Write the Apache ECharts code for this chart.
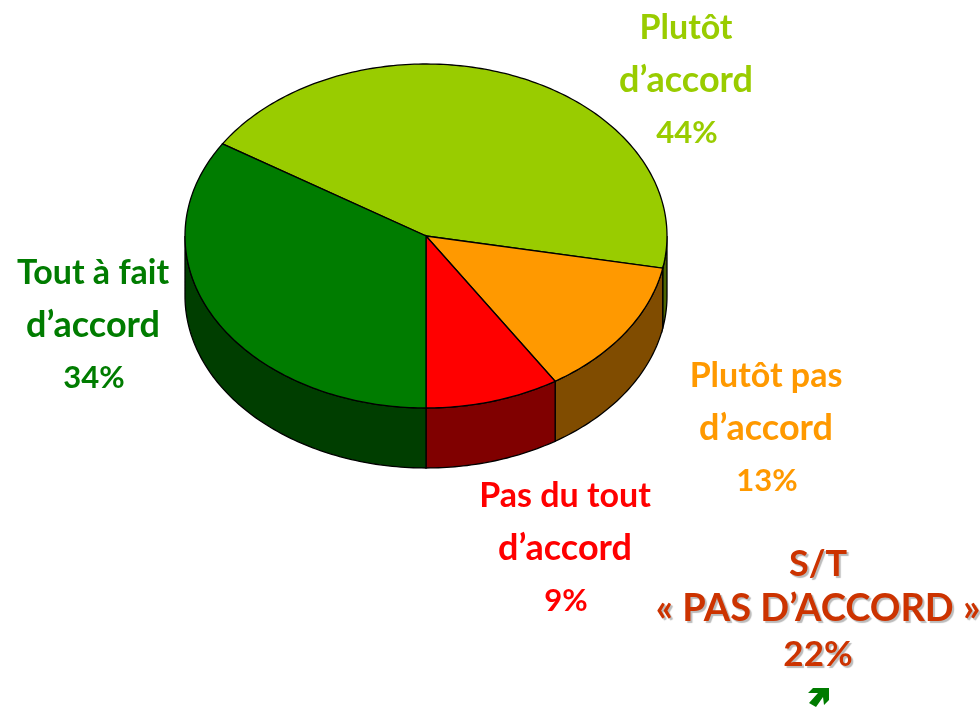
<!DOCTYPE html>
<html><head><meta charset="utf-8">
<style>html,body{margin:0;padding:0;background:#fff}#c{width:980px;height:707px}</style>
<script src="https://cdn.jsdelivr.net/npm/echarts@6/dist/echarts.min.js"></script>
</head><body><div id="c"></div>
<script>
const categories = [["Plutôt","d’accord"],["Plutôt pas","d’accord"],["Pas du tout","d’accord"],["Tout à fait","d’accord"]];
const values = [44,13,9,34];
const topColors = ["#99CC00","#FF9900","#FF0000","#007C00"];
const sideColors = ["#4C6600","#804C00","#800000","#003E00"];
const labelCentres = [[686,28],[766,376],[565,496],[93,273]];
const summaryLines = ["S/T","« PAS D’ACCORD »","22%"];

const nameFonts = ['bold 34px Lato, sans-serif','bold 36px Lato, sans-serif'];
const PCT_FONT = 'bold 31px Lato, sans-serif';
const LINE = 52.5;
const pie = {cx:426, cy:236, rx:241, ry:172, depth:60, endOfThird:90};
const total = values.reduce((a,b)=>a+b,0);
const startDeg = pie.endOfThird - (values[0]+values[1]+values[2])/total*360;

function arc(a0,a1,dy){
  const n = Math.max(2,Math.ceil(Math.abs(a1-a0)));
  const pts=[];
  for(let i=0;i<=n;i++){
    const a=(a0+(a1-a0)*i/n)*Math.PI/180;
    pts.push([pie.cx+pie.rx*Math.cos(a), pie.cy+pie.ry*Math.sin(a)+dy]);
  }
  return pts;
}
function renderItem(params,api){
  const i=params.dataIndex;
  let before=0; for(let k=0;k<i;k++) before+=values[k];
  const a0=startDeg+before/total*360, a1=a0+api.value(0)/total*360;
  const children=[];
  for(const shift of [-360,0,360]){
    const s=Math.max(a0+shift,0), e=Math.min(a1+shift,180);
    if(e>s){
      const t=arc(s,e,0), b=arc(s,e,pie.depth).reverse();
      children.push({type:'polygon',shape:{points:t.concat(b)},
        style:{fill:sideColors[i],stroke:'#000',lineWidth:1.3}});
    }
  }
  children.push({type:'polygon',shape:{points:[[pie.cx,pie.cy]].concat(arc(a0,a1,0))},
    style:{fill:topColors[i],stroke:'#000',lineWidth:1.3}});
  return {type:'group',children};
}
const graphics=[];
categories.forEach((lines,i)=>{
  const [x,y]=labelCentres[i];
  lines.forEach((t,j)=>{
    graphics.push({type:'text',style:{text:t,x:x,y:y+j*LINE,fill:topColors[i],font:nameFonts[j],align:'center',verticalAlign:'middle'}});
  });
  graphics.push({type:'text',style:{text:values[i]+"%",x:x+1,y:y+2*LINE,fill:topColors[i],font:PCT_FONT,align:'center',verticalAlign:'middle'}});
});
const summaryY=[564,609,655];
const summaryFonts=['bold 36px Lato, sans-serif','bold 38px Lato, sans-serif','bold 35px Lato, sans-serif'];
summaryLines.forEach((t,j)=>{
  graphics.push({type:'text',style:{text:t,x:818,y:summaryY[j],fill:'#CC3300',font:summaryFonts[j],align:'center',verticalAlign:'middle',
    textShadowColor:'#BBBBBB',textShadowOffsetX:2,textShadowOffsetY:2,textShadowBlur:1}});
});
graphics.push({type:'polygon',shape:{points:[[808,693],[813,688],[829,688],[829,700],[824,705],[823,697],[816,707],[809,703],[818,693]]},style:{fill:'#007C00'}});

const chart=echarts.init(document.getElementById('c'),null,{renderer:'canvas'});
chart.setOption({
  animation:false,
  backgroundColor:'#fff',
  series:[{type:'custom',coordinateSystem:'none',renderItem,data:values.map(v=>[v]),silent:true}],
  graphic:graphics
});
</script></body></html>
